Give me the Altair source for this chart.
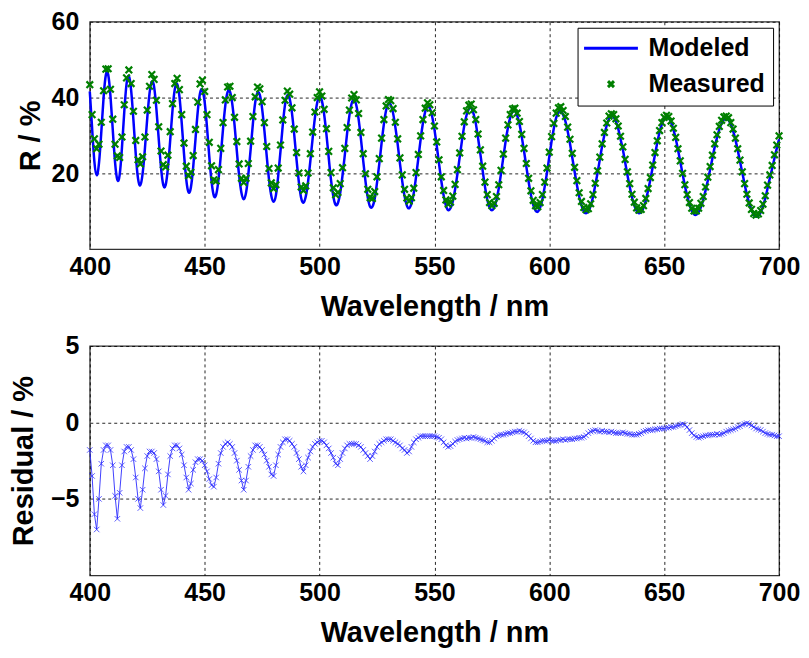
import altair as alt
import pandas as pd

# ---------------- data ----------------
WAVELENGTH = list(range(400, 701))  # nm, one sample per nm

MODELED = [
    41.6, 32.0, 23.1, 19.5, 22.7, 30.8, 40.0, 46.0, 46.1, 40.4,
    31.5, 22.9, 18.3, 19.6, 26.8, 36.2, 43.6, 45.7, 41.9, 34.0,
    25.1, 18.6, 16.9, 20.0, 26.6, 34.5, 41.1, 44.2, 42.8, 36.9,
    29.1, 21.5, 16.9, 16.9, 21.4, 28.8, 36.7, 42.2, 43.6, 40.4,
    33.4, 25.2, 18.3, 15.0, 16.3, 21.6, 29.0, 36.4, 41.2, 42.1,
    38.8, 32.3, 24.5, 17.9, 14.1, 14.4, 18.3, 24.6, 31.8, 38.0,
    41.5, 41.6, 38.4, 32.8, 25.9, 19.4, 14.9, 13.2, 14.9, 19.7,
    26.3, 33.2, 38.7, 41.3, 40.7, 37.1, 31.3, 24.6, 18.4, 14.1,
    12.5, 14.2, 19.3, 25.9, 32.8, 38.2, 40.6, 39.7, 35.9, 30.1,
    23.5, 17.7, 13.5, 12.3, 13.9, 17.8, 23.3, 29.3, 34.8, 38.7,
    40.3, 39.2, 35.6, 30.3, 24.1, 18.2, 13.9, 11.7, 12.2, 14.9,
    19.5, 24.9, 30.6, 35.3, 38.5, 39.4, 38.0, 34.3, 29.2, 23.4,
    17.9, 13.6, 11.2, 11.2, 13.3, 17.5, 22.5, 28.0, 33.0, 36.7,
    38.4, 38.1, 35.9, 32.2, 27.7, 22.6, 17.9, 14.0, 11.5, 10.8,
    12.0, 14.8, 19.1, 24.0, 29.0, 33.3, 36.3, 37.7, 37.2, 35.1,
    31.6, 27.3, 22.6, 18.0, 14.2, 11.5, 10.3, 10.8, 12.6, 15.8,
    19.8, 24.3, 28.7, 32.6, 35.4, 37.0, 37.3, 35.8, 33.2, 29.3,
    25.1, 20.7, 16.5, 13.1, 11.0, 10.3, 11.0, 13.0, 16.1, 20.0,
    24.3, 28.5, 32.1, 34.8, 36.3, 36.6, 35.3, 33.1, 29.7, 25.9,
    21.8, 17.8, 14.3, 11.7, 10.2, 9.9, 11.0, 13.2, 16.5, 20.2,
    24.4, 28.5, 32.0, 34.7, 36.1, 36.4, 35.5, 33.8, 31.1, 27.9,
    24.2, 20.5, 17.0, 13.9, 11.6, 10.0, 9.5, 10.0, 11.4, 13.8,
    16.9, 20.1, 23.7, 27.2, 30.2, 32.7, 34.4, 35.1, 34.8, 33.7,
    31.8, 29.1, 26.3, 23.0, 19.6, 16.5, 13.7, 11.6, 10.1, 9.5,
    9.8, 10.9, 12.8, 15.5, 18.4, 21.7, 25.0, 28.1, 30.9, 33.0,
    34.4, 34.9, 34.6, 33.5, 31.6, 29.2, 26.3, 23.1, 19.9, 16.8,
    14.1, 11.8, 10.1, 9.2, 9.1, 9.8, 11.1, 13.0, 15.5, 18.1,
    21.0, 24.0, 27.0, 29.4, 31.6, 33.2, 34.2, 34.5, 34.1, 32.9,
    31.2, 28.9, 26.2, 23.2, 20.2, 17.2, 14.4, 12.1, 10.3, 9.1,
    8.6, 8.8, 9.7, 11.3, 13.4, 16.1, 18.8, 21.3, 24.0, 26.6,
    29.0,
]

MEASURED = [
    43.4, 35.5, 29.1, 26.5, 27.7, 33.5, 41.8, 47.5, 47.6, 42.2,
    34.3, 27.7, 24.6, 24.2, 29.6, 38.1, 45.2, 47.3, 43.7, 36.4,
    28.7, 23.6, 22.5, 24.4, 29.6, 36.7, 43.0, 46.1, 44.8, 39.3,
    32.3, 25.9, 22.3, 21.7, 24.8, 31.0, 38.4, 43.7, 45.1, 42.1,
    35.5, 28.0, 21.9, 19.4, 20.3, 24.7, 31.6, 38.8, 43.6, 44.6,
    41.6, 35.5, 28.2, 22.0, 18.3, 18.0, 21.0, 26.6, 33.4, 39.4,
    42.8, 43.0, 40.0, 34.8, 28.4, 22.5, 18.7, 17.6, 18.7, 22.6,
    28.5, 35.0, 40.2, 42.8, 42.3, 38.9, 33.4, 27.1, 21.3, 17.5,
    16.0, 17.0, 21.4, 27.5, 34.1, 39.3, 41.7, 40.9, 37.3, 31.7,
    25.5, 20.1, 16.4, 15.5, 16.7, 20.1, 25.2, 30.9, 36.2, 40.0,
    41.5, 40.4, 36.9, 31.8, 25.8, 20.2, 16.2, 14.4, 15.0, 17.3,
    21.5, 26.6, 32.1, 36.7, 39.9, 40.8, 39.4, 35.8, 30.8, 25.2,
    19.9, 15.8, 13.6, 13.4, 15.2, 19.1, 23.9, 29.3, 34.2, 37.8,
    39.5, 39.2, 37.1, 33.5, 29.1, 24.1, 19.6, 15.8, 13.5, 12.7,
    13.6, 16.1, 20.2, 25.0, 29.9, 34.2, 37.2, 38.6, 38.1, 36.0,
    32.5, 28.3, 23.6, 19.1, 15.5, 13.0, 11.9, 12.4, 14.0, 17.1,
    21.0, 25.4, 29.8, 33.6, 36.5, 38.0, 38.3, 36.8, 34.2, 30.4,
    26.2, 21.9, 17.7, 14.4, 12.3, 11.5, 12.1, 13.9, 17.0, 20.8,
    25.1, 29.3, 32.8, 35.5, 37.0, 37.2, 35.9, 33.7, 30.3, 26.6,
    22.6, 18.7, 15.4, 12.9, 11.5, 11.2, 12.3, 14.4, 17.7, 21.4,
    25.6, 29.7, 33.2, 35.9, 37.3, 37.6, 36.6, 35.0, 32.2, 29.0,
    25.3, 21.6, 18.1, 14.9, 12.6, 11.0, 10.4, 10.7, 12.0, 14.4,
    17.4, 20.7, 24.3, 27.8, 30.8, 33.3, 35.1, 35.7, 35.5, 34.4,
    32.5, 29.8, 27.0, 23.7, 20.4, 17.3, 14.5, 12.4, 10.9, 10.3,
    10.5, 11.5, 13.4, 16.0, 18.9, 22.2, 25.5, 28.6, 31.3, 33.4,
    34.8, 35.3, 35.0, 33.8, 31.9, 29.5, 26.5, 23.3, 20.0, 17.0,
    14.4, 12.3, 10.8, 10.1, 10.1, 10.8, 12.1, 13.9, 16.4, 19.0,
    21.8, 24.8, 27.8, 30.2, 32.4, 34.0, 34.9, 35.1, 34.7, 33.4,
    31.7, 29.3, 26.5, 23.5, 20.4, 17.3, 14.5, 12.2, 10.5, 9.4,
    9.0, 9.3, 10.2, 11.9, 14.1, 16.9, 19.6, 22.1, 24.9, 27.5,
    29.9,
]

RESIDUAL = [
    -1.8, -3.5, -6.0, -7.0, -5.0, -2.7, -1.8, -1.5, -1.5, -1.8,
    -2.8, -4.8, -6.3, -4.6, -2.8, -1.9, -1.6, -1.6, -1.8, -2.4,
    -3.6, -5.0, -5.6, -4.4, -3.0, -2.2, -1.9, -1.9, -2.0, -2.4,
    -3.2, -4.4, -5.4, -4.8, -3.4, -2.2, -1.7, -1.5, -1.5, -1.7,
    -2.1, -2.8, -3.6, -4.4, -4.0, -3.1, -2.6, -2.4, -2.4, -2.5,
    -2.8, -3.2, -3.7, -4.1, -4.2, -3.6, -2.7, -2.0, -1.6, -1.4,
    -1.3, -1.4, -1.6, -2.0, -2.5, -3.1, -3.8, -4.4, -3.8, -2.9,
    -2.2, -1.8, -1.5, -1.5, -1.6, -1.8, -2.1, -2.5, -2.9, -3.4,
    -3.5, -2.8, -2.1, -1.6, -1.3, -1.1, -1.1, -1.2, -1.4, -1.6,
    -2.0, -2.4, -2.9, -3.2, -2.8, -2.3, -1.9, -1.6, -1.4, -1.3,
    -1.2, -1.2, -1.3, -1.5, -1.7, -2.0, -2.3, -2.7, -2.8, -2.4,
    -2.0, -1.7, -1.5, -1.4, -1.4, -1.4, -1.4, -1.5, -1.6, -1.8,
    -2.0, -2.2, -2.4, -2.2, -1.9, -1.6, -1.4, -1.3, -1.2, -1.1,
    -1.1, -1.1, -1.2, -1.3, -1.4, -1.5, -1.7, -1.8, -2.0, -1.9,
    -1.6, -1.3, -1.1, -1.0, -0.9, -0.9, -0.9, -0.9, -0.9, -0.9,
    -0.9, -0.95, -1.0, -1.1, -1.3, -1.5, -1.6, -1.55, -1.4, -1.25,
    -1.15, -1.1, -1.05, -1.0, -1.05, -1.0, -1.0, -0.95, -1.0, -1.05,
    -1.1, -1.15, -1.2, -1.3, -1.3, -1.2, -1.05, -0.9, -0.85, -0.8,
    -0.8, -0.75, -0.7, -0.7, -0.65, -0.6, -0.6, -0.55, -0.6, -0.65,
    -0.75, -0.9, -1.05, -1.2, -1.3, -1.3, -1.25, -1.2, -1.2, -1.2,
    -1.15, -1.2, -1.2, -1.2, -1.15, -1.15, -1.1, -1.15, -1.1, -1.1,
    -1.1, -1.05, -1.05, -1.0, -1.0, -0.95, -0.85, -0.7, -0.6, -0.55,
    -0.5, -0.55, -0.6, -0.55, -0.6, -0.6, -0.65, -0.6, -0.65, -0.7,
    -0.7, -0.7, -0.65, -0.7, -0.75, -0.75, -0.8, -0.8, -0.8, -0.75,
    -0.7, -0.6, -0.55, -0.5, -0.5, -0.5, -0.45, -0.45, -0.4, -0.4,
    -0.4, -0.35, -0.35, -0.3, -0.3, -0.25, -0.2, -0.15, -0.1, -0.15,
    -0.3, -0.5, -0.7, -0.85, -0.95, -1.0, -0.95, -0.9, -0.85, -0.85,
    -0.8, -0.8, -0.8, -0.75, -0.8, -0.75, -0.7, -0.6, -0.55, -0.5,
    -0.45, -0.4, -0.3, -0.25, -0.15, -0.1, -0.05, -0.1, -0.2, -0.3,
    -0.4, -0.45, -0.5, -0.6, -0.7, -0.75, -0.8, -0.8, -0.85, -0.9,
    -0.9,
]

X_TICKS = [400, 450, 500, 550, 600, 650, 700]
R_TICKS = [20, 40, 60]
RES_TICKS = [-5, 0, 5]
SERIES = ["Modeled", "Measured"]
SERIES_COLORS = ["#0000ff", "#008000"]

df = pd.DataFrame({
    "wl": WAVELENGTH,
    "modeled": MODELED,
    "measured": MEASURED,
    "residual": RESIDUAL,
    "series": ["Measured"] * len(WAVELENGTH),
})

FONT = "Liberation Sans"
LINE_SYMBOL = "M-9,0H9"
X_SYMBOL = "M-1,-1L1,1M-1,1L1,-1"
PLOT_W = 691


def xscale():
    return alt.Scale(domain=[400, 700], nice=False, zero=False, padding=0)


# ---------------- top panel ----------------
x_top = alt.X("wl:Q", scale=xscale(),
              axis=alt.Axis(values=X_TICKS, title="Wavelength / nm"))
y_top = alt.Y("modeled:Q", scale=alt.Scale(domain=[0, 60], nice=False, padding=0),
              axis=alt.Axis(values=R_TICKS, title="R / %", titlePadding=6))

modeled_line = alt.Chart(df).mark_line(
    color="#0000ff", strokeWidth=2.5, interpolate="natural"
).encode(x=x_top, y=y_top)

measured_pts = alt.Chart(df).mark_point(
    filled=False, strokeWidth=2.2, size=44, opacity=1
).encode(
    x=alt.X("wl:Q", scale=xscale()),
    y="measured:Q",
    color=alt.Color("series:N", scale=alt.Scale(domain=SERIES, range=SERIES_COLORS),
                    legend=alt.Legend(title=None)),
    shape=alt.Shape("series:N", scale=alt.Scale(domain=SERIES, range=[LINE_SYMBOL, X_SYMBOL]),
                    legend=alt.Legend(title=None)),
)

top = alt.layer(modeled_line, measured_pts).properties(width=PLOT_W, height=228)

# ---------------- bottom panel ----------------
x_bot = alt.X("wl:Q", scale=xscale(),
              axis=alt.Axis(values=X_TICKS, title="Wavelength / nm"))
y_bot = alt.Y("residual:Q", scale=alt.Scale(domain=[-10, 5], nice=False, padding=0),
              axis=alt.Axis(values=RES_TICKS, title="Residual / %", titlePadding=12))

res_line = alt.Chart(df).mark_line(color="#2a2aff", strokeWidth=0.9).encode(x=x_bot, y=y_bot)
res_pts = alt.Chart(df).mark_point(
    shape=X_SYMBOL, filled=False, color="#2a2aff", strokeWidth=0.9, size=30, opacity=0.85
).encode(x=alt.X("wl:Q", scale=xscale()), y="residual:Q")

bottom = alt.layer(res_line, res_pts).properties(width=PLOT_W, height=230)

chart = alt.vconcat(top, bottom, spacing=11).properties(
    padding={"left": 0, "top": 0, "right": 0, "bottom": 0}
).configure_view(
    stroke="#333333", strokeWidth=1.3
).configure_axis(
    labelFont=FONT, labelFontSize=25, labelFontWeight="bold", labelColor="black",
    titleFont=FONT, titleFontSize=29, titleFontWeight="bold", titleColor="black",
    domain=False, ticks=False, grid=True, gridColor="black", gridDash=[3, 3],
    gridWidth=1, gridOpacity=0.85, labelPadding=11, labelFlush=False,
).configure_axisX(
    labelPadding=5, titlePadding=13,
).configure_legend(
    orient="top-right", offset=6, padding=8, strokeColor="black", fillColor="white",
    labelFont=FONT, labelFontSize=25, labelFontWeight="bold", labelColor="black",
    symbolOffset=13, labelOffset=25, rowPadding=10, symbolSize=36,
    symbolStrokeWidth=3, cornerRadius=0, labelLimit=300,
)

chart.save("out.html", embed_options={"renderer": "svg", "actions": False})
